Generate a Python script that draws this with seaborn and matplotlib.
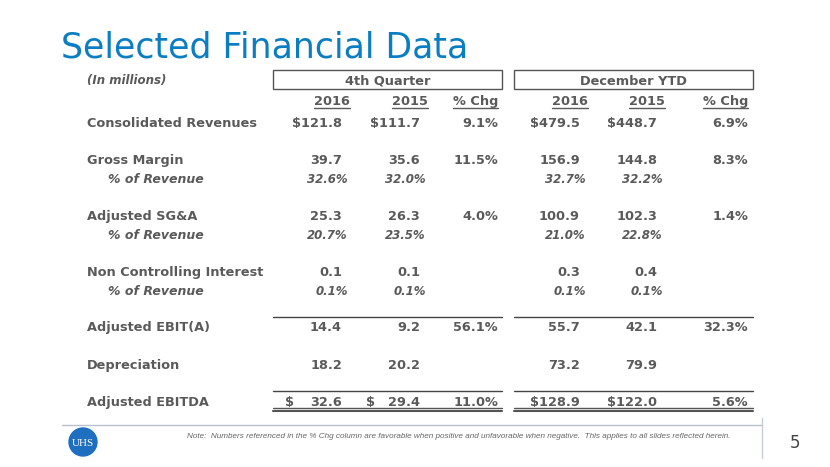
import matplotlib
matplotlib.use("Agg")
import matplotlib.pyplot as plt
import matplotlib.patches as mpatches
import seaborn as sns

# table data (in millions)
row_labels = ["Consolidated Revenues", "Gross Margin", "% of Revenue",
              "Adjusted SG&A", "% of Revenue", "Non Controlling Interest",
              "% of Revenue", "Adjusted EBIT(A)", "Depreciation", "Adjusted EBITDA"]
sub_row = [False, False, True, False, True, False, True, False, False, False]
q4_2016 = ["$121.8", "39.7", "32.6%", "25.3", "20.7%", "0.1", "0.1%", "14.4", "18.2", "$ 32.6"]
q4_2015 = ["$111.7", "35.6", "32.0%", "26.3", "23.5%", "0.1", "0.1%", "9.2", "20.2", "$ 29.4"]
q4_chg = ["9.1%", "11.5%", "", "4.0%", "", "", "", "56.1%", "", "11.0%"]
ytd_2016 = ["$479.5", "156.9", "32.7%", "100.9", "21.0%", "0.3", "0.1%", "55.7", "73.2", "$128.9"]
ytd_2015 = ["$448.7", "144.8", "32.2%", "102.3", "22.8%", "0.4", "0.1%", "42.1", "79.9", "$122.0"]
ytd_chg = ["6.9%", "8.3%", "", "1.4%", "", "", "", "32.3%", "", "5.6%"]
col_headers = ["2016", "2015", "% Chg", "2016", "2015", "% Chg"]
group_headers = ["4th Quarter", "December YTD"]

sns.set_theme(style="white")
plt.rcParams["font.family"] = ["DejaVu Sans"]

grey = "#5a5a5a"
fig = plt.figure(figsize=(8.3, 4.67), dpi=100)
ax = fig.add_axes([0, 0, 1, 1])
ax.set_xlim(0, 830)
ax.set_ylim(467, 0)
ax.axis("off")

ax.text(61, 58, "Selected Financial Data", fontsize=25, color="#0b7dc2",
        va="baseline", ha="left")

ax.text(87, 84, "(In millions)", fontsize=8.5, color=grey, weight="bold",
        style="italic", va="baseline")

# group boxes
boxes = [(273, 502), (514, 753)]
for (x0, x1), name in zip(boxes, group_headers):
    ax.add_patch(mpatches.Rectangle((x0, 70), x1 - x0, 18.5, fill=False,
                                    ec="#555555", lw=1.0))
    ax.text((x0 + x1) / 2, 85, name, fontsize=9.3, color=grey, weight="bold",
            ha="center", va="baseline")

head_right = [350, 428, 498, 588, 665, 748]
fig.canvas.draw()
for xr, h in zip(head_right, col_headers):
    t = ax.text(xr, 105, h, fontsize=9.3, color=grey, weight="bold",
                ha="right", va="baseline")
    bb = t.get_window_extent(renderer=fig.canvas.get_renderer()).transformed(ax.transData.inverted())
    ax.plot([min(bb.x0, bb.x1), max(bb.x0, bb.x1)], [108, 108], color=grey, lw=1.0)

row_y = [127, 164, 183, 220, 239, 276, 295, 331, 369, 406]
columns = [q4_2016, q4_2015, q4_chg, ytd_2016, ytd_2015, ytd_chg]
col_right = [342, 420, 498, 580, 657, 748]
col_left = [285, 366, 440, 516, 596, 680]

for i, (lab, y) in enumerate(zip(row_labels, row_y)):
    if sub_row[i]:
        ax.text(108, y, lab, fontsize=9, color=grey, weight="bold",
                style="italic", va="baseline")
    else:
        ax.text(87, y, lab, fontsize=9.3, color=grey, weight="bold", va="baseline")
    for j, col in enumerate(columns):
        v = col[i]
        if not v:
            continue
        if sub_row[i]:
            ax.text(col_right[j] + 6, y, v, fontsize=8.5, color=grey,
                    weight="bold", style="italic", ha="right", va="baseline")
        elif v.startswith("$ "):
            ax.text(col_left[j], y, "$", fontsize=9.3, color=grey,
                    weight="bold", ha="left", va="baseline")
            ax.text(col_right[j], y, v[2:], fontsize=9.3, color=grey,
                    weight="bold", ha="right", va="baseline")
        else:
            ax.text(col_right[j], y, v, fontsize=9.3, color=grey,
                    weight="bold", ha="right", va="baseline")

# rules
for x0, x1 in boxes:
    ax.plot([x0, x1], [317, 317], color="#444444", lw=1.0)
    ax.plot([x0, x1], [391, 391], color="#444444", lw=1.0)
    ax.plot([x0, x1], [408, 408], color="#555555", lw=1.0)
    ax.plot([x0, x1], [411, 411], color="#555555", lw=1.5)

# footer
ax.plot([62, 762], [425, 425], color="#b8c0cc", lw=1.0)
ax.plot([762, 762], [418, 458], color="#c8ccd4", lw=1.0)
ax.text(795, 443, "5", fontsize=12, color="#444444", ha="center", va="center")
ax.text(187, 436, "Note:  Numbers referenced in the % Chg column are favorable when positive "
        "and unfavorable when negative.  This applies to all slides reflected herein.",
        fontsize=5.9, color="#666666", style="italic", va="center",
        family="Liberation Sans")
ax.add_patch(mpatches.Circle((83, 442), 14, color="#1f6fc0"))
ax.text(83, 443, "UHS", fontsize=8, color="white", ha="center", va="center",
        family="Liberation Serif")

fig.savefig("out.png", dpi=100)
